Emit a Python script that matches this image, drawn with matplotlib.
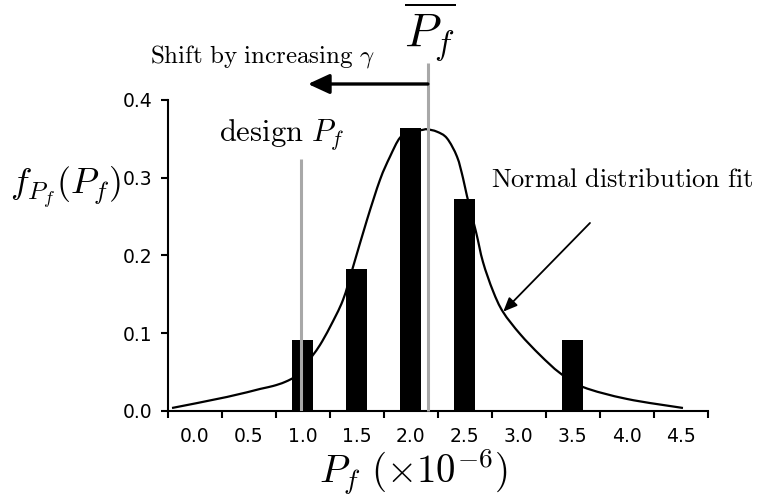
import matplotlib
matplotlib.use("Agg")
import matplotlib.pyplot as plt
import numpy as np
from matplotlib.path import Path
from matplotlib.patches import PathPatch
from matplotlib.ticker import FixedLocator, NullFormatter

plt.rcParams['mathtext.fontset'] = 'cm'
plt.rcParams['font.family'] = ['DejaVu Sans']

# Histogram of failure probabilities (x 1e-6), one bar per category
categories = [0.0, 0.5, 1.0, 1.5, 2.0, 2.5, 3.0, 3.5, 4.0, 4.5]
tick_labels = ["0.0", "0.5", "1.0", "1.5", "2.0", "2.5", "3.0", "3.5", "4.0", "4.5"]
frequency = [0.0, 0.0, 0.091, 0.182, 0.364, 0.273, 0.0, 0.091, 0.0, 0.0]

# Normal-distribution fit, drawn as a smoothed line through these points
fit_pf = [-0.209, 0.30, 0.606, 0.726, 0.837, 0.952, 1.02, 1.096, 1.161, 1.254,
          1.374, 1.467, 1.596, 1.717, 1.809, 1.902, 2.00, 2.106, 2.152, 2.244,
          2.337, 2.430, 2.485, 2.522, 2.606, 2.670, 2.763, 2.856, 3.013, 3.198,
          3.383, 3.596, 4.004, 4.522]
fit_density = [0.0035, 0.0177, 0.0280, 0.0318, 0.0370, 0.0455, 0.057, 0.0717,
               0.0846, 0.1078, 0.1426, 0.1851, 0.2456, 0.2974, 0.3270, 0.3515,
               0.3590, 0.3614, 0.3623, 0.3592, 0.3507, 0.3270, 0.2996, 0.2764,
               0.2300, 0.1915, 0.1541, 0.1271, 0.0988, 0.0717, 0.0485, 0.0305,
               0.0151, 0.0035]

design_pf = 0.985
design_top = 0.324
mean_pf = 2.16
mean_top = 0.448
shift_tip = 1.05
shift_y = 0.4206

W, H = 758, 497
fig = plt.figure(figsize=(W / 100, H / 100), dpi=100)
ax = fig.add_axes([167.6 / W, (H - 410.7) / H, 540 / W, 310.7 / H])


def fx(px):
    return px / W


def fy(py):
    return 1 - py / H


def smooth_path(xs, ys):
    """Catmull-Rom style cubic Bezier path through the given points."""
    pts = np.column_stack([xs, ys])
    n = len(pts)
    verts = [pts[0]]
    codes = [Path.MOVETO]
    for i in range(n - 1):
        p0 = pts[i - 1] if i > 0 else pts[i]
        p1 = pts[i]
        p2 = pts[i + 1]
        p3 = pts[i + 2] if i + 2 < n else pts[i + 1]
        verts += [p1 + (p2 - p0) / 6.0, p2 - (p3 - p1) / 6.0, p2]
        codes += [Path.CURVE4] * 3
    return Path(verts, codes)


ax.add_patch(PathPatch(smooth_path(fit_pf, fit_density), facecolor='none',
                       edgecolor='black', lw=1.6, zorder=2, clip_on=False))
ax.bar(categories, frequency, width=0.2, color='black', zorder=3)
ax.plot([design_pf, design_pf], [0, design_top], color='#a8a8a8', lw=2.2,
        zorder=4, solid_capstyle='butt')
ax.plot([mean_pf, mean_pf], [0, mean_top], color='#a8a8a8', lw=2.2,
        zorder=4, solid_capstyle='butt', clip_on=False)

ax.annotate('', xy=(shift_tip, shift_y), xytext=(mean_pf, shift_y),
            arrowprops=dict(arrowstyle='-|>,head_length=0.65,head_width=0.3',
                            lw=2.4, color='black', mutation_scale=20,
                            shrinkA=0, shrinkB=0),
            annotation_clip=False, zorder=5)
ax.annotate('', xy=(2.858, 0.1275), xytext=(3.661, 0.2417),
            arrowprops=dict(arrowstyle='-|>,head_length=0.7,head_width=0.3',
                            lw=1.3, color='black', mutation_scale=12,
                            shrinkA=0, shrinkB=0),
            annotation_clip=False, zorder=5)

ax.set_xlim(-0.25, 4.75)
ax.set_ylim(0, 0.4)
for side in ('top', 'right'):
    ax.spines[side].set_visible(False)
for side in ('left', 'bottom'):
    ax.spines[side].set_linewidth(1.5)

# category boundaries carry the tick marks, centres carry the labels
ax.xaxis.set_major_locator(FixedLocator([c - 0.25 for c in categories] + [4.75]))
ax.xaxis.set_major_formatter(NullFormatter())
ax.xaxis.set_minor_locator(FixedLocator(categories))
ax.set_xticklabels(tick_labels, minor=True)
ax.tick_params(axis='x', which='major', direction='out', length=5, width=1.5)
ax.tick_params(axis='x', which='minor', length=0, pad=12, labelsize=13.5)
ax.set_yticks([0.0, 0.1, 0.2, 0.3, 0.4])
ax.set_yticklabels(["0.0", "0.1", "0.2", "0.3", "0.4"])
ax.tick_params(axis='y', direction='out', length=5, width=1.5, pad=6, labelsize=13.5)

fig.text(fx(430), fy(33), r'$\overline{P_f}$', fontsize=34, ha='center', va='center')
fig.text(fx(262), fy(56), r'$\mathrm{Shift\ by\ increasing}\ \gamma$', fontsize=18,
         ha='center', va='center')
fig.text(fx(282), fy(135), r'$\mathrm{design}\ P_f$', fontsize=22, ha='center', va='center')
fig.text(fx(622), fy(180), r'$\mathrm{Normal\ distribution\ fit}$', fontsize=19,
         ha='center', va='center')
fig.text(fx(65), fy(188), r'$f_{P_f}(P_f)$', fontsize=26, ha='center', va='center')
fig.text(fx(413), fy(472), r'$P_f\ (\times 10^{-6})$', fontsize=28, ha='center', va='center')

fig.savefig('out.png', dpi=100)
